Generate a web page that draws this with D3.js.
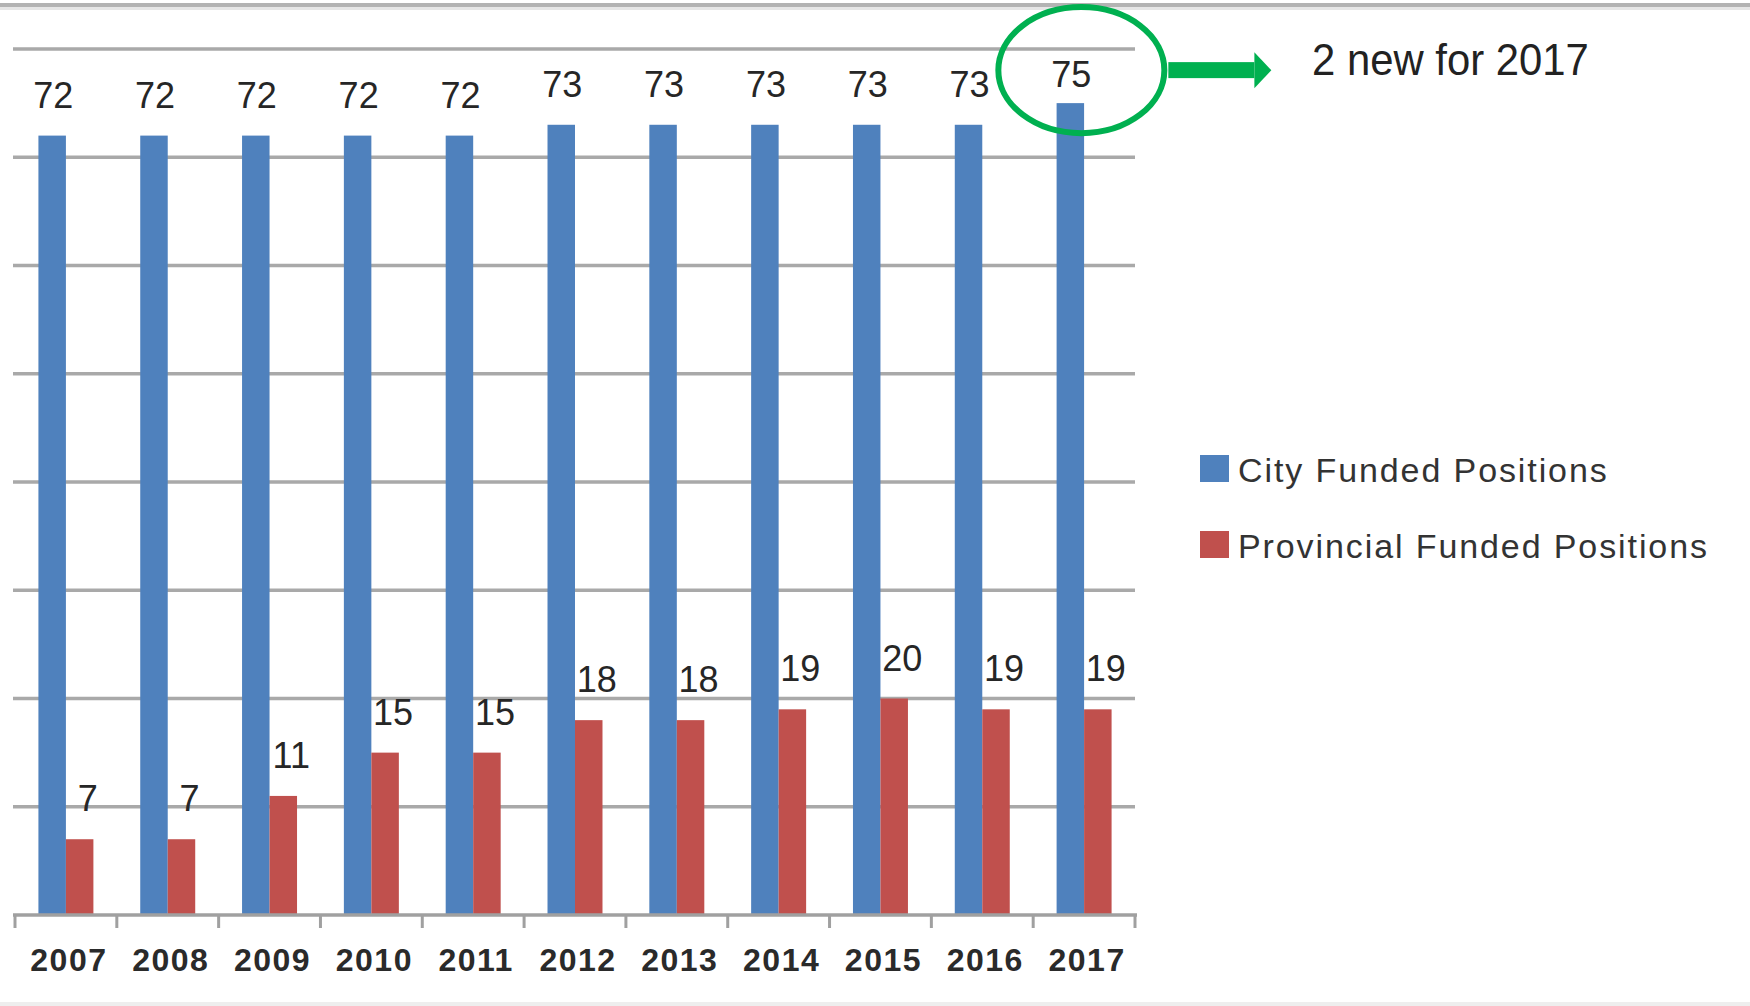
<!DOCTYPE html>
<html>
<head>
<meta charset="utf-8">
<script src="https://cdn.jsdelivr.net/npm/d3@7"></script>
<style>
  body { margin: 0; background: #fff; }
  svg { display: block; }
</style>
</head>
<body>
<script>
// chart data
var years = ["2007", "2008", "2009", "2010", "2011", "2012", "2013", "2014", "2015", "2016", "2017"];
var cityFunded = [72, 72, 72, 72, 72, 73, 73, 73, 73, 73, 75];
var provincialFunded = [7, 7, 11, 15, 15, 18, 18, 19, 20, 19, 19];
var seriesNames = ["City Funded Positions", "Provincial Funded Positions"];
var gridValues = [10, 20, 30, 40, 50, 60, 70, 80];
var noteText = "2 new for 2017";

var W = 1750, H = 1006;
var colors = ["#4f81bd", "#c0504d"];

var svg = d3.select("body").append("svg")
    .attr("width", W)
    .attr("height", H);

// frame lines of the original screenshot
svg.append("rect").attr("x", 0).attr("y", 3).attr("width", W).attr("height", 4).attr("fill", "#b3b3b3");
svg.append("rect").attr("x", 0).attr("y", 7).attr("width", W).attr("height", 3).attr("fill", "#e6e6e6");
svg.append("rect").attr("x", 0).attr("y", 1002).attr("width", W).attr("height", 4).attr("fill", "#eeeeee");

var x0 = d3.scaleBand()
    .domain(years)
    .range([15, 1135])
    .paddingInner(0.46)
    .paddingOuter(0.23);

var x1 = d3.scaleBand()
    .domain(seriesNames)
    .range([0, x0.bandwidth()]);

var y = d3.scaleLinear()
    .domain([0, 80])
    .range([915, 49]);

var g = svg.append("g");

// gridlines
g.selectAll(".grid")
    .data(gridValues)
    .enter().append("line")
    .attr("class", "grid")
    .attr("x1", 13)
    .attr("x2", 1135)
    .attr("y1", function(d) { return y(d); })
    .attr("y2", function(d) { return y(d); })
    .attr("stroke", "#a9a9a9")
    .attr("stroke-width", 3.5);

var rows = years.map(function(yr, i) {
    return {year: yr, values: [cityFunded[i], provincialFunded[i]]};
});

var groups = g.selectAll(".yr")
    .data(rows)
    .enter().append("g")
    .attr("class", "yr")
    .attr("transform", function(d) { return "translate(" + x0(d.year) + ",0)"; });

groups.selectAll("rect")
    .data(function(d) { return d.values.map(function(v, k) { return {name: seriesNames[k], k: k, value: v}; }); })
    .enter().append("rect")
    .attr("x", function(d) { return x1(d.name); })
    .attr("y", function(d) { return y(d.value); })
    .attr("width", x1.bandwidth())
    .attr("height", function(d) { return y(0) - y(d.value); })
    .attr("fill", function(d) { return colors[d.k]; });

// value labels
groups.selectAll("text")
    .data(function(d) { return d.values.map(function(v, k) { return {name: seriesNames[k], k: k, value: v}; }); })
    .enter().append("text")
    .attr("x", function(d) { return x1(d.name) + x1.bandwidth() / 2 + (d.k == 1 ? 8 : 1); })
    .attr("y", function(d) { return Math.max(y(d.value) - 28, y(80) + 38); })
    .attr("text-anchor", "middle")
    .style("font-family", "'Liberation Sans', Arial, sans-serif")
    .style("font-size", "36px")
    .attr("fill", "#262626")
    .text(function(d) { return d.value; });

// x axis
var step = x0.step();
g.append("line")
    .attr("x1", 13).attr("x2", 1137)
    .attr("y1", y(0)).attr("y2", y(0))
    .attr("stroke", "#a0a0a0")
    .attr("stroke-width", 3.5);

g.selectAll(".tick")
    .data(d3.range(years.length + 1))
    .enter().append("line")
    .attr("class", "tick")
    .attr("x1", function(i) { return 15 + i * step; })
    .attr("x2", function(i) { return 15 + i * step; })
    .attr("y1", y(0))
    .attr("y2", y(0) + 13)
    .attr("stroke", "#a0a0a0")
    .attr("stroke-width", 3);

g.selectAll(".xlab")
    .data(years)
    .enter().append("text")
    .attr("class", "xlab")
    .attr("x", function(d) { return x0(d) + x0.bandwidth() / 2 + 3; })
    .attr("y", 971)
    .attr("text-anchor", "middle")
    .style("font-family", "'Liberation Sans', Arial, sans-serif")
    .style("font-size", "32px")
    .style("font-weight", "bold")
    .style("letter-spacing", "1.5px")
    .attr("fill", "#2a2a2a")
    .text(function(d) { return d; });

// legend
var legend = svg.append("g").attr("transform", "translate(1200,455)");
seriesNames.forEach(function(name, k) {
    legend.append("rect")
        .attr("x", 0)
        .attr("y", k * 76)
        .attr("width", 29)
        .attr("height", 27)
        .attr("fill", colors[k]);
    legend.append("text")
        .attr("x", 38)
        .attr("y", k * 76 + 27)
        .style("font-family", "'Liberation Sans', Arial, sans-serif")
        .style("font-size", "34px")
        .style("letter-spacing", "1.9px")
        .attr("fill", "#333")
        .text(name);
});

// annotation on the last city bar
var last = years.length - 1;
var cx = x0(years[last]) + x1(seriesNames[0]) + x1.bandwidth() / 2 + 11;
var cy = y(cityFunded[last]) - 33;
var green = "#00b050";

svg.append("ellipse")
    .attr("cx", cx).attr("cy", cy)
    .attr("rx", 83).attr("ry", 63)
    .attr("fill", "none")
    .attr("stroke", green)
    .attr("stroke-width", 6);

var ax = cx + 87;
svg.append("rect")
    .attr("x", ax).attr("y", cy - 8)
    .attr("width", 86).attr("height", 16)
    .attr("fill", green);
svg.append("path")
    .attr("d", "M" + (ax + 86) + "," + (cy - 18) + "L" + (ax + 103) + "," + cy + "L" + (ax + 86) + "," + (cy + 18) + "Z")
    .attr("fill", green);

svg.append("text")
    .attr("transform", "translate(1312,75) scale(0.93,1)")
    .style("font-family", "'Liberation Sans', Arial, sans-serif")
    .style("font-size", "45px")
    .attr("fill", "#222")
    .text(noteText);
</script>
</body>
</html>
